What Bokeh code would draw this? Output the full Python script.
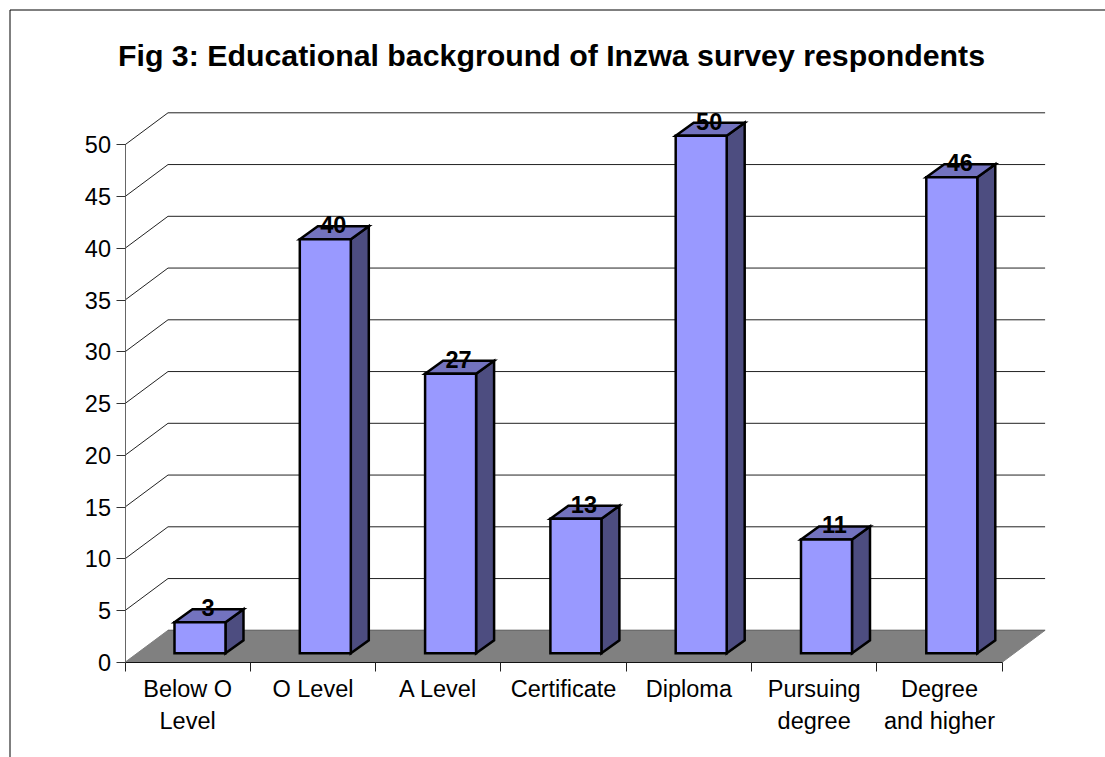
from bokeh.plotting import figure
from bokeh.models import LinearAxis, FixedTicker, Range1d, Label, ColumnDataSource
from bokeh.embed import file_html
from bokeh.resources import INLINE
from bokeh.core.properties import value

title_text = "Fig 3: Educational background of Inzwa survey respondents"
categories = ["Below O\nLevel", "O Level", "A Level", "Certificate", "Diploma", "Pursuing\ndegree", "Degree\nand higher"]
values = [3, 40, 27, 13, 50, 11, 46]
y_ticks = [0, 5, 10, 15, 20, 25, 30, 35, 40, 45, 50]

FONT = "Liberation Sans"
W, H = 1105, 757
SX, SY = 125.3, 10.35      # px per category / per unit
AX, AY = 124.5, 661.8      # axis origin within the canvas, px
DX, DY = 43 / SX, 32 / SY  # wall depth
BX, BY = 18 / SX, 13 / SY  # bar depth
B0, B1 = 0.395, 0.802      # bar span in a category
BASE = 9 / SY              # lift of the bar base over the front of the floor

p = figure(width=W, height=H, output_backend="svg", toolbar_location=None,
           x_axis_type=None, y_axis_type=None, min_border=0,
           x_range=Range1d(-AX / SX, (W - AX) / SX),
           y_range=Range1d(-(H - AY) / SY, AY / SY),
           background_fill_color="white", border_fill_color="white", outline_line_color=None)
p.grid.visible = False

n = len(categories)
# chart frame, open at the window's edges
fx, fy = (9.5 - AX) / SX, (AY - 9.5) / SY
p.line([fx, fx, (W - AX) / SX], [-(H - AY) / SY, fy, fy], line_color="black", line_width=1)
# floor
p.patch([0, DX, n + DX, n], [0, DY, DY, 0], fill_color="#808080", line_color="#808080", line_width=1)
# wall lines
p.multi_line([[0, DX, n + DX] for v in y_ticks[1:]],
             [[v, v + DY, v + DY] for v in y_ticks[1:]], line_color="#222222", line_width=1)
p.line([DX, n + DX], [DY, DY], line_color="#666666", line_width=1)

# bars
left = [i + B0 for i in range(n)]
right = [i + B1 for i in range(n)]
bottom = [BASE] * n
top = [v + BASE for v in values]
side_x = [[r, r + BX, r + BX, r] for r in right]
side_y = [[BASE, BASE + BY, t + BY, t] for t in top]
top_x = [[l, l + BX, r + BX, r] for l, r in zip(left, right)]
top_y = [[t, t + BY, t + BY, t] for t in top]
line = dict(line_color="black", line_width=2.5, line_join="miter")
p.patches(side_x, side_y, fill_color="#4D4D80", **line)
p.patches(top_x, top_y, fill_color="#7373BF", **line)
p.quad(left=left, right=right, bottom=bottom, top=top, fill_color="#9999FF", **line)

# data labels
src = ColumnDataSource(dict(x=[(l + r + BX) / 2 - 1 / SX for l, r in zip(left, right)],
                            y=[t + BY + 1.5 / SY for t in top],
                            t=[str(v) for v in values]))
p.text("x", "y", text="t", source=src, text_font=value(FONT), text_font_style="bold",
       text_font_size="23.5px", text_align="center", text_baseline="middle", text_color="black")

# axes
ya = LinearAxis(ticker=FixedTicker(ticks=y_ticks), fixed_location=0, bounds=(0, 50))
ya.axis_line_color = "#666666"
ya.major_tick_line_color = "#333333"
ya.major_tick_in = 0
ya.major_tick_out = 9
ya.minor_tick_line_color = None
ya.major_label_standoff = 5
ya.major_label_text_font = FONT
ya.major_label_text_font_size = "23.5px"
ya.major_label_text_color = "black"
p.add_layout(ya, "left")

xa = LinearAxis(ticker=FixedTicker(ticks=[i + 0.5 for i in range(n)], minor_ticks=list(range(n + 1))),
                fixed_location=0, bounds=(0, n),
                major_label_overrides={i + 0.5: c for i, c in enumerate(categories)})
xa.axis_line_color = "#111111"
xa.major_tick_line_color = None
xa.minor_tick_line_color = "#222222"
xa.minor_tick_in = 0
xa.minor_tick_out = 9
xa.major_label_standoff = 5
xa.major_label_text_font = FONT
xa.major_label_text_font_size = "23.5px"
xa.major_label_text_color = "black"
p.add_layout(xa, "below")

# title
p.add_layout(Label(x=(551 - AX) / SX, y=(AY - 54.5) / SY, text=title_text, text_font=FONT,
                   text_font_style="bold", text_font_size="30.3px", text_align="center",
                   text_baseline="middle", text_color="black"))

open("out.html", "w").write(file_html(p, INLINE))
